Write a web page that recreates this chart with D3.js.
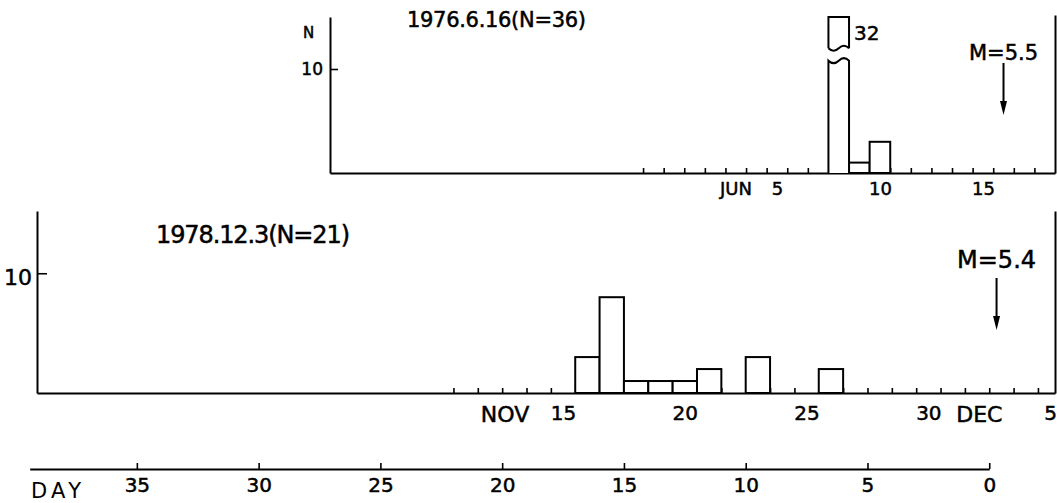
<!DOCTYPE html>
<html>
<head>
<meta charset="utf-8">
<script src="https://cdn.jsdelivr.net/npm/d3@7"></script>
<style>
  body { margin: 0; background: #fff; }
  svg { display: block; font-family: "DejaVu Sans", sans-serif; }
</style>
</head>
<body>
<div id="vis"></div>
<script>

// 1976.6.16 sequence, days of June, mainshock on the 16th
const topTitle = "1976.6.16(N=36)";
const topMainDay = 16;
const topDays = [8, 9, 10];
const topCounts = [32, 1, 3];
const topLabelDays = [5, 10, 15];
const topMonth = "JUN";
const topMag = "M=5.5";

// 1978.12.3 sequence, days counted from Nov 1 (Dec 3 = 33)
const botTitle = "1978.12.3(N=21)";
const botMainDay = 33;
const botDays = [16, 17, 18, 19, 20, 21, 23, 26];
const botCounts = [3, 8, 1, 1, 1, 2, 3, 2];
const botLabelDays = [15, 20, 25, 30, 35];
const botLabelText = ["15", "20", "25", "30", "5"];
const botMonths = ["NOV", "DEC"];
const botMag = "M=5.4";

// days before mainshock
const dayTicks = [35, 30, 25, 20, 15, 10, 5, 0];
const yTicks = [10];

function drawChart(){
  const width = 1057, height = 503;
  const svg = d3.select("#vis")
    .append("svg")
    .attr("viewBox", [0, 0, width, height])
    .style("width", `${width}px`)
    .style("height", `${height}px`);

  drawTop(svg.append("g"));
  drawBottom(svg.append("g"));

  // lettering in the original is fairly heavy
  svg.selectAll("text:not(.thin)")
    .attr("stroke", "#000")
    .attr("stroke-width", 0.5);
}

function styleAxis(a, sw){
  a.select(".domain").attr("stroke-width", sw || 2).attr("stroke", "#000");
  a.selectAll(".tick line").attr("stroke-width", 1.6).attr("stroke", "#000");
  a.selectAll("text").attr("fill", "#000").attr("font-family", "DejaVu Sans, sans-serif");
}

function wave(x0, x1, y, a){
  const w = x1 - x0;
  return `Q${x0 + w/4},${y + a} ${x0 + w/2},${y} T${x1},${y}`;
}

function drawTop(g){
  const x = d3.scaleLinear().domain([-32.2, 3]).range([330, 1055]);
  const y = d3.scaleLinear().domain([0, 15]).range([173, 17]);
  const cap = 15, breakLo = 10.8, breakHi = 12.0;
  const bars = topDays.map((d, i) => ({d: d - topMainDay, n: topCounts[i]}));

  // x axis: baseline + inward day ticks
  const xa = g.append("g").attr("transform", `translate(0,${y(0)})`)
    .call(d3.axisBottom(x).tickValues(d3.range(-17, 3)).tickSize(-5).tickSizeOuter(0).tickFormat(""));
  styleAxis(xa);

  const xl = g.append("g").attr("transform", `translate(0,${y(0)})`)
    .call(d3.axisBottom(x).tickValues(topLabelDays.map(d => d - topMainDay + 0.5))
      .tickSize(0).tickPadding(9).tickFormat((d, i) => topLabelDays[i]));
  xl.select(".domain").remove();
  styleAxis(xl);
  xl.selectAll("text").attr("font-size", 18);

  g.append("text")
    .attr("x", x(topLabelDays[0] - topMainDay + 0.5) - 41)
    .attr("y", 195)
    .attr("text-anchor", "middle")
    .attr("font-size", 18)
    .text(topMonth);

  // y axis
  const ya = g.append("g").attr("transform", `translate(${x.range()[0]},0)`)
    .call(d3.axisLeft(y).tickValues(yTicks).tickSize(-8).tickSizeOuter(0).tickPadding(7));
  styleAxis(ya);
  ya.selectAll("text").attr("font-size", 17);

  g.append("text").attr("x", 303).attr("y", 38).attr("font-size", 15).text("N");

  // right frame
  const ra = g.append("g").attr("transform", `translate(${x.range()[1]},0)`)
    .call(d3.axisRight(d3.scaleLinear().domain([0, 15.2]).range([173, 15])).tickValues([]).tickSizeOuter(0));
  styleAxis(ra);

  // bars
  const bg = g.append("g").attr("fill", "#fff").attr("stroke", "#000").attr("stroke-width", 2);
  bars.filter(b => b.n <= cap).forEach(b => {
    bg.append("rect")
      .attr("x", x(b.d)).attr("y", y(b.n))
      .attr("width", x(b.d + 1) - x(b.d))
      .attr("height", y(0) - y(b.n));
  });
  // bar taller than the frame: drawn broken, value written beside it
  bars.filter(b => b.n > cap).forEach(b => {
    const x0 = x(b.d), x1 = x(b.d + 1);
    bg.append("path")
      .attr("d", `M${x0},${y(0)} L${x0},${y(breakLo)} ${wave(x0, x1, y(breakLo), 5)} L${x1},${y(0)}`);
    bg.append("path")
      .attr("d", `M${x0},${y(breakHi)} L${x0},${y(cap)} L${x1},${y(cap)} L${x1},${y(breakHi)}`)
      .attr("fill", "none");
    bg.append("path").attr("d", `M${x0},${y(breakHi)} ${wave(x0, x1, y(breakHi), 5)}`).attr("fill", "none");
    g.append("text")
      .attr("x", x1 + 5)
      .attr("y", y((cap + breakHi) / 2) + 7)
      .attr("font-size", 20)
      .text(b.n);
  });

  // title
  g.append("text").attr("x", 407).attr("y", 27)
    .attr("font-size", 21).attr("textLength", 179)
    .text(topTitle);

  // mainshock arrow
  drawArrow(g, x(0.5), 63, 115, topMag, 60, 21);
}

function drawBottom(g){
  const x = d3.scaleLinear().domain([-39.1, 2.7]).range([37, 1055]);
  const y = d3.scaleLinear().domain([0, 15.2]).range([393, 211]);
  const bars = botDays.map((d, i) => ({d: d - botMainDay, n: botCounts[i]}));

  const xa = g.append("g").attr("transform", `translate(0,${y(0)})`)
    .call(d3.axisBottom(x).tickValues(d3.range(-22, 3)).tickSize(-5).tickSizeOuter(0).tickFormat(""));
  styleAxis(xa);

  const xl = g.append("g").attr("transform", `translate(0,${y(0)})`)
    .call(d3.axisBottom(x).tickValues(botLabelDays.map(d => d - botMainDay + 0.5))
      .tickSize(0).tickPadding(13).tickFormat((d, i) => botLabelText[i]));
  xl.select(".domain").remove();
  styleAxis(xl);
  xl.selectAll("text").attr("font-size", 20);

  // month names beside the first/last day labels
  g.append("text")
    .attr("x", x(botLabelDays[0] - botMainDay + 0.5) - 58)
    .attr("y", 422).attr("text-anchor", "middle").attr("font-size", 22)
    .text(botMonths[0]);
  g.append("text")
    .attr("x", x(botLabelDays[3] - botMainDay + 0.5) + 51)
    .attr("y", 422).attr("text-anchor", "middle").attr("font-size", 22)
    .text(botMonths[1]);

  const ya = g.append("g").attr("transform", `translate(${x.range()[0]},0)`)
    .call(d3.axisLeft(y).tickValues(yTicks).tickSize(-10).tickSizeOuter(0).tickPadding(5));
  styleAxis(ya);
  ya.selectAll("text").attr("font-size", 22).attr("dy", "0.5em");

  const ra = g.append("g").attr("transform", `translate(${x.range()[1]},0)`)
    .call(d3.axisRight(y).tickValues([]).tickSizeOuter(0));
  styleAxis(ra);

  g.append("g").attr("fill", "#fff").attr("stroke", "#000").attr("stroke-width", 2)
    .selectAll("rect")
    .data(bars)
    .join("rect")
    .attr("x", b => x(b.d))
    .attr("y", b => y(b.n))
    .attr("width", b => x(b.d + 1) - x(b.d))
    .attr("height", b => y(0) - y(b.n));

  g.append("text").attr("x", 156).attr("y", 243)
    .attr("font-size", 24).attr("textLength", 194)
    .text(botTitle);

  drawArrow(g, x(0.3), 278, 330, botMag, 268, 24);

  // DAY axis, shares the bottom chart's scale
  const xd = d3.scaleLinear().domain([39.4, 0]).range([x(-39.4), x(0)]);
  const da = g.append("g").attr("transform", "translate(0,469)")
    .call(d3.axisBottom(xd).tickValues(dayTicks).tickSize(-6).tickSizeOuter(0).tickPadding(9));
  styleAxis(da);
  da.selectAll("text").attr("font-size", 20);

  g.append("text").attr("class", "thin")
    .attr("x", 31).attr("y", 498)
    .attr("font-size", 21).attr("textLength", 50)
    .text("DAY");
}

function drawArrow(g, ax, y0, y1, label, ly, fs){
  g.append("line")
    .attr("x1", ax).attr("x2", ax)
    .attr("y1", y0).attr("y2", y1 - 6)
    .attr("stroke", "#000").attr("stroke-width", 2);
  g.append("path")
    .attr("d", `M${ax - 3.5},${y1 - 14} L${ax + 3.5},${y1 - 14} L${ax},${y1} Z`)
    .attr("fill", "#000");
  g.append("text")
    .attr("x", ax).attr("y", ly)
    .attr("text-anchor", "middle")
    .attr("font-size", fs)
    .text(label);
}

drawChart();
</script>
</body>
</html>
